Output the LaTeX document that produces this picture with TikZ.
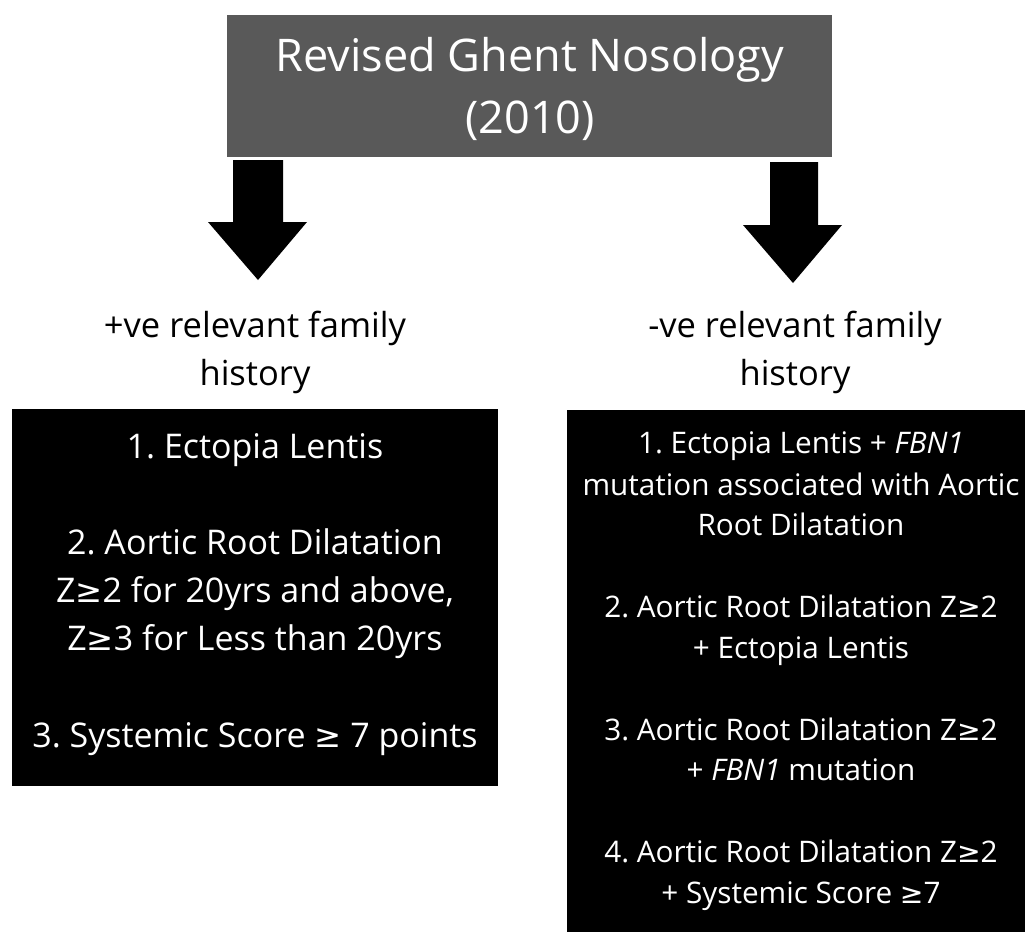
\documentclass[tikz,border=0pt]{standalone}
\usepackage{fontspec}
\setmainfont{Open Sans}
\newfontfamily\symf{DejaVu Sans}[Scale=0.95]
\newcommand{\gsym}{{\symf ≥}}
\definecolor{titlegray}{HTML}{595959}
\frenchspacing
\begin{document}
\frenchspacing
\begin{tikzpicture}[x=1pt,y=-1pt,
  titlebox/.style={fill=titlegray, draw=none, inner sep=0, minimum width=605pt, minimum height=142pt},
  blackbox/.style={fill=black, draw=none, inner sep=0},
  ttl/.style={text=white, anchor=base, inner sep=0, font=\fontsize{45}{54}\selectfont},
  lbl/.style={text=black, anchor=base, inner sep=0, font=\fontsize{34.5}{40}\selectfont},
  ltxt/.style={text=white, anchor=base, inner sep=0, font=\fontsize{34}{40}\selectfont},
  rtxt/.style={text=white, anchor=base, inner sep=0, font=\fontsize{29.7}{36}\selectfont},
  blockarrow/.style={fill=black, draw=none}]
\useasboundingbox (0,0) rectangle (1025,932);
% title
\node[titlebox] (title) at (529.5,86) {};
\node[ttl] (t1) at (530,71) {Revised Ghent Nosology};
\node[ttl] (t2) at (530,133) {(2010)};
% black boxes
\node[blackbox, minimum width=486pt, minimum height=377pt] (lbox) at (255,597.5) {};
\node[blackbox, minimum width=458pt, minimum height=522pt] (rbox) at (796,671) {};
% block arrows
\coordinate (la) at (258,160);
\coordinate (ra) at (794,162);
\fill[blockarrow] (la) ++(-25,0) -- ++(50,0) -- ++(0,62) -- ++(24,0) -- ++(-49,58) -- ++(-50,-58) -- ++(25,0) -- cycle;
\fill[blockarrow] (ra) ++(-24,0) -- ++(48,0) -- ++(0,63) -- ++(24,0) -- ++(-49,58) -- ++(-50,-58) -- ++(27,0) -- cycle;
% labels
\node[lbl] (l1) at (255,337) {+ve relevant family};
\node[lbl] (l2) at (255,385) {history};
\node[lbl] (r1) at (795,337) {-ve relevant family};
\node[lbl] (r2) at (795,385) {history};
% left box text
\node[ltxt] (a1) at (255,458) {1. Ectopia Lentis};
\node[ltxt] (a2) at (255,554) {2. Aortic Root Dilatation};
\node[ltxt] (a3) at (255,602) {Z\gsym2 for 20yrs and above,};
\node[ltxt] (a4) at (255,650) {Z\gsym3 for Less than 20yrs};
\node[ltxt] (a5) at (255,747) {3. Systemic Score \gsym\ 7 points};
% right box text
\node[rtxt] (b1) at (801,453) {1. Ectopia Lentis + \textit{FBN1}};
\node[rtxt] (b2) at (801,495) {mutation associated with Aortic};
\node[rtxt] (b3) at (801,535) {Root Dilatation};
\node[rtxt] (b4) at (801,617) {2. Aortic Root Dilatation Z\gsym2};
\node[rtxt] (b5) at (801,658) {+ Ectopia Lentis};
\node[rtxt] (b6) at (801,740) {3. Aortic Root Dilatation Z\gsym2};
\node[rtxt] (b7) at (801,780) {+ \textit{FBN1} mutation};
\node[rtxt] (b8) at (801,862) {4. Aortic Root Dilatation Z\gsym2};
\node[rtxt] (b9) at (801,903) {+ Systemic Score \gsym7};
\end{tikzpicture}
\end{document}
